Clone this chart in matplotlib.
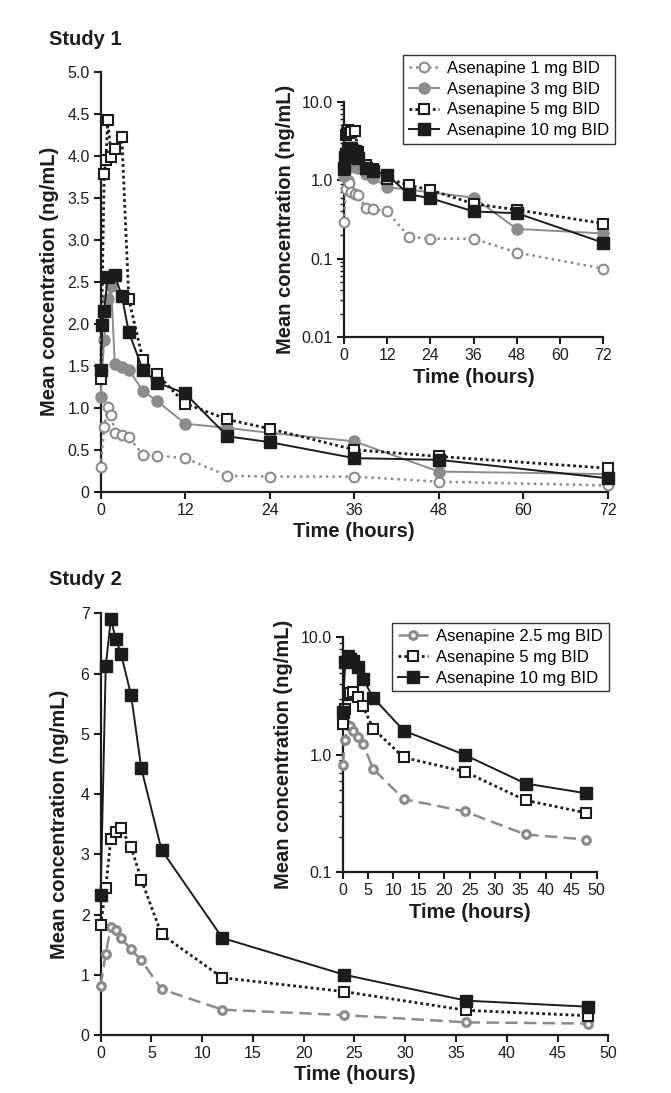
import matplotlib
matplotlib.use('Agg')
import matplotlib.pyplot as plt
from matplotlib.ticker import FixedLocator, FuncFormatter, LogLocator, NullFormatter

plt.rcParams['font.family'] = ['Liberation Sans', 'DejaVu Sans']

GRAY = '#8c8c8c'
BLACK = '#1c1c1c'

# ---- Study 1 data (hours, ng/mL) ----
s1_labels = ['Asenapine 1 mg BID', 'Asenapine 3 mg BID',
             'Asenapine 5 mg BID', 'Asenapine 10 mg BID']
s1_t_1mg = [0, 0.5, 1, 1.5, 2, 3, 4, 6, 8, 12, 18, 24, 36, 48, 72]
s1_c_1mg = [0.29, 0.77, 1.01, 0.91, 0.70, 0.67, 0.65, 0.44, 0.43, 0.40,
            0.19, 0.18, 0.18, 0.12, 0.075]
s1_t_3mg = [0, 0.5, 1, 1.5, 2, 3, 4, 6, 8, 12, 18, 24, 36, 48, 72]
s1_c_3mg = [1.13, 1.81, 2.30, 2.45, 1.52, 1.49, 1.45, 1.20, 1.08, 0.81,
            0.76, 0.70, 0.60, 0.24, 0.21]
s1_t_5mg = [0, 0.5, 0.75, 1, 1.5, 2, 3, 4, 6, 8, 12, 18, 24, 36, 48, 72]
s1_c_5mg = [1.34, 3.78, 3.95, 4.42, 3.99, 4.08, 4.22, 2.29, 1.57, 1.40,
            1.05, 0.86, 0.75, 0.50, 0.42, 0.28]
s1_t_10mg = [0, 0.25, 0.5, 1, 2, 3, 4, 6, 8, 12, 18, 24, 36, 48, 72]
s1_c_10mg = [1.45, 1.98, 2.15, 2.56, 2.58, 2.33, 1.90, 1.45, 1.30, 1.17,
             0.66, 0.59, 0.40, 0.38, 0.16]

# ---- Study 2 data ----
s2_labels = ['Asenapine 2.5 mg BID', 'Asenapine 5 mg BID', 'Asenapine 10 mg BID']
s2_t = [0, 0.5, 1, 1.5, 2, 3, 4, 6, 12, 24, 36, 48]
s2_c_2_5mg = [0.82, 1.35, 1.79, 1.75, 1.61, 1.42, 1.24, 0.76, 0.42, 0.33, 0.21, 0.19]
s2_c_5mg = [1.82, 2.44, 3.26, 3.37, 3.43, 3.12, 2.58, 1.67, 0.95, 0.72, 0.41, 0.32]
s2_c_10mg = [2.32, 6.12, 6.90, 6.57, 6.33, 5.64, 4.43, 3.07, 1.61, 1.00, 0.57, 0.47]

s1_series = [(s1_t_1mg, s1_c_1mg), (s1_t_3mg, s1_c_3mg),
             (s1_t_5mg, s1_c_5mg), (s1_t_10mg, s1_c_10mg)]
s2_series = [(s2_t, s2_c_2_5mg), (s2_t, s2_c_5mg), (s2_t, s2_c_10mg)]

s1_styles = [
    dict(color=GRAY, ls=(0, (1, 1.6)), lw=1.8, marker='o', mfc='white', mec=GRAY, ms=7, mew=1.5),
    dict(color=GRAY, ls='-', lw=1.4, marker='o', mfc=GRAY, mec=GRAY, ms=8, mew=1),
    dict(color=BLACK, ls=(0, (1, 1.1)), lw=2.0, marker='s', mfc='white', mec=BLACK, ms=7, mew=1.5),
    dict(color=BLACK, ls='-', lw=1.4, marker='s', mfc=BLACK, mec=BLACK, ms=8, mew=1),
]
s2_styles = [
    dict(color=GRAY, ls=(0, (5, 2.5)), lw=1.8, marker='o', mfc='white', mec=GRAY, ms=5.5, mew=2.3),
    dict(color=BLACK, ls=(0, (1, 1.1)), lw=2.0, marker='s', mfc='white', mec=BLACK, ms=7, mew=1.5),
    dict(color=BLACK, ls='-', lw=1.4, marker='s', mfc=BLACK, mec=BLACK, ms=8, mew=1),
]

LABEL_FONT = dict(fontsize=14.5, fontweight='bold', color=BLACK)


def style_axes(ax):
    for side in ['top', 'right']:
        ax.spines[side].set_visible(False)
    for side in ['left', 'bottom']:
        ax.spines[side].set_linewidth(1.6)
        ax.spines[side].set_color(BLACK)
    ax.tick_params(which='major', direction='out', length=5, width=1.5,
                   labelsize=11.5, pad=3, colors=BLACK)
    ax.tick_params(which='minor', direction='out', length=3, width=1.0, colors=BLACK)


def lin_fmt(v, pos):
    return '0' if v == 0 else '%.1f' % v


def log_fmt(v, pos):
    return '%.2f' % v if v < 0.1 else '%.1f' % v


def draw(ax, series, styles, labels, clip=False):
    for (t, c), st, lab in zip(series, styles, labels):
        ax.plot(t, c, label=lab, clip_on=clip, zorder=3, **st)


fig = plt.figure(figsize=(6.71, 10.93), dpi=100)

# ---------------- Study 1 main ----------------
ax1 = fig.add_axes([0.150, 0.5501, 0.756, 0.3843])
draw(ax1, s1_series, s1_styles, s1_labels)
ax1.set_xlim(0, 72)
ax1.set_ylim(0, 5.0)
ax1.xaxis.set_major_locator(FixedLocator([0, 12, 24, 36, 48, 60, 72]))
ax1.yaxis.set_major_locator(FixedLocator([i * 0.5 for i in range(11)]))
ax1.yaxis.set_major_formatter(FuncFormatter(lin_fmt))
style_axes(ax1)
ax1.set_xlabel('Time (hours)', labelpad=3, **LABEL_FONT)
ax1.set_ylabel('Mean concentration (ng/mL)', labelpad=6, **LABEL_FONT)
fig.text(49 / 671, 1 - 45 / 1093, 'Study 1', fontsize=14.5, fontweight='bold', color=BLACK)

# ---------------- Study 1 inset ----------------
ax1i = fig.add_axes([0.5127, 0.6914, 0.3864, 0.2156])
ax1i.patch.set_alpha(0)
draw(ax1i, s1_series, s1_styles, s1_labels)
ax1i.set_yscale('log')
ax1i.set_xlim(0, 72)
ax1i.set_ylim(0.01, 10)
ax1i.xaxis.set_major_locator(FixedLocator([0, 12, 24, 36, 48, 60, 72]))
ax1i.yaxis.set_major_locator(FixedLocator([0.01, 0.1, 1, 10]))
ax1i.yaxis.set_major_formatter(FuncFormatter(log_fmt))
ax1i.yaxis.set_minor_locator(LogLocator(base=10, subs=range(2, 10)))
ax1i.yaxis.set_minor_formatter(NullFormatter())
style_axes(ax1i)
ax1i.set_xlabel('Time (hours)', labelpad=3, **LABEL_FONT)
ax1i.set_ylabel('Mean concentration (ng/mL)', labelpad=5, **LABEL_FONT)
leg1 = ax1i.legend(loc='upper right', bbox_to_anchor=(615 / 671, 1 - 55 / 1093),
                   bbox_transform=fig.transFigure, fontsize=12, frameon=True,
                   fancybox=False, edgecolor='#333333', framealpha=1,
                   handlelength=1.8, handletextpad=0.5, labelspacing=0.35,
                   borderpad=0.35, borderaxespad=0)
leg1.get_frame().set_linewidth(1.0)

# ---------------- Study 2 main ----------------
ax2 = fig.add_axes([0.150, 0.05307, 0.7565, 0.3858])
draw(ax2, s2_series, s2_styles, s2_labels)
ax2.set_xlim(0, 50)
ax2.set_ylim(0, 7)
ax2.xaxis.set_major_locator(FixedLocator(list(range(0, 51, 5))))
ax2.yaxis.set_major_locator(FixedLocator(list(range(0, 8))))
style_axes(ax2)
ax2.set_xlabel('Time (hours)', labelpad=3, **LABEL_FONT)
ax2.set_ylabel('Mean concentration (ng/mL)', labelpad=8, **LABEL_FONT)
fig.text(49 / 671, 1 - 585 / 1093, 'Study 2', fontsize=14.5, fontweight='bold', color=BLACK)

# ---------------- Study 2 inset ----------------
ax2i = fig.add_axes([0.5107, 0.2019, 0.3785, 0.2150])
ax2i.patch.set_alpha(0)
draw(ax2i, s2_series, s2_styles, s2_labels)
ax2i.set_yscale('log')
ax2i.set_xlim(0, 50)
ax2i.set_ylim(0.1, 10)
ax2i.xaxis.set_major_locator(FixedLocator(list(range(0, 51, 5))))
ax2i.yaxis.set_major_locator(FixedLocator([0.1, 1, 10]))
ax2i.yaxis.set_major_formatter(FuncFormatter(log_fmt))
ax2i.yaxis.set_minor_locator(LogLocator(base=10, subs=range(2, 10)))
ax2i.yaxis.set_minor_formatter(NullFormatter())
style_axes(ax2i)
ax2i.set_xlabel('Time (hours)', labelpad=3, **LABEL_FONT)
ax2i.set_ylabel('Mean concentration (ng/mL)', labelpad=5, **LABEL_FONT)
leg2 = ax2i.legend(loc='upper right', bbox_to_anchor=(609 / 671, 1 - 623 / 1093),
                   bbox_transform=fig.transFigure, fontsize=12, frameon=True,
                   fancybox=False, edgecolor='#333333', framealpha=1,
                   handlelength=1.8, handletextpad=0.5, labelspacing=0.35,
                   borderpad=0.35, borderaxespad=0)
leg2.get_frame().set_linewidth(1.0)

fig.savefig('out.png', dpi=100, facecolor='white')
